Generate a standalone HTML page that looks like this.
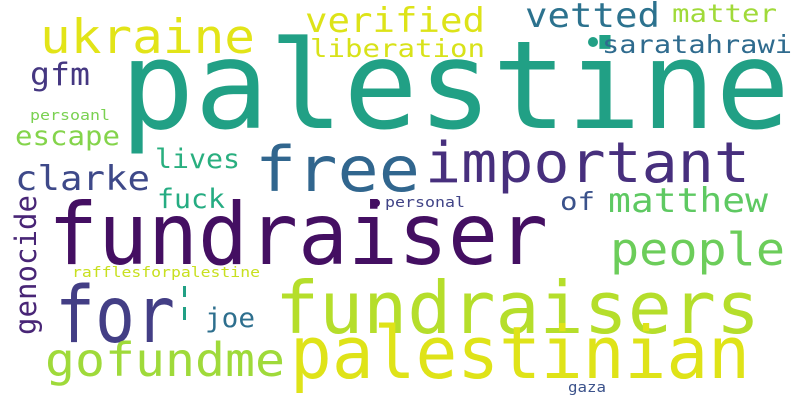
<!DOCTYPE html>
<html><head><meta charset="utf-8"><style>
html,body{margin:0;padding:0;background:#fff;width:800px;height:400px;overflow:hidden}
svg text{font-family:"DejaVu Sans Mono","Liberation Mono",monospace}
</style></head><body>
<svg id="cloud" width="800" height="400" viewBox="0 0 800 400" xmlns="http://www.w3.org/2000/svg">
<rect width="800" height="400" fill="#fff"/>
</svg>
<script>
const words = ["palestine","fundraiser","fundraisers","palestinian","important","free","for","people","gofundme","ukraine","verified","vetted","matter","liberation","saratahrawi","gfm","escape","persoanl","clarke","lives","fuck","genocide","rafflesforpalestine","joe","of","matthew","personal","gaza"];
const fontSizes = [122,86,72,72,56,62,78,45,46,47,34,34,25,25,25,31,27,14,34,27,27,29,14,27,25,34,14,14];
const colors = ["#21a085","#440f62","#b5de2b","#dfe318","#472f7d","#31668e","#433e85","#6ccd5a","#9fda3a","#e2e418","#dde318","#2c728e","#a0da39","#d8e219","#2f6b8e","#453781","#84d44b","#7ad151","#3e4989","#29af7f","#25ac82","#482576","#c8e020","#2e6f8e","#3b528b","#5ec962","#414487","#3b528b"];
const xs = [120,48,275,290,425,255,55,610,45,40,305,525,672,310,602,30,15,30,15,155,157,36,72,205,560,608,385,568];
const ys = [128,264,333,378,182,191,342,265,376,53,32,27,22,57,53,85,145,120,190,168,208,335,277,327,210,212,207,392];
const widths = [670,500,485,460,325,165,120,175,240,215,180,135,105,175,190,60,105,80,135,85,68,140,188,50,35,160,80,38];
const vertical = [0,0,0,0,0,0,0,0,0,0,0,0,0,0,0,0,0,0,0,0,0,1,0,0,0,0,0,0];
const svg = document.getElementById('cloud');
const NS = "http://www.w3.org/2000/svg";
for (let i = 0; i < words.length; i++) {
  const t = document.createElementNS(NS, 'text');
  
  
  t.setAttribute('x', xs[i]);
  t.setAttribute('y', ys[i]);
  t.setAttribute('font-size', fontSizes[i]);
  t.setAttribute('fill', colors[i]);
  t.setAttribute('textLength', widths[i]);
  t.setAttribute('lengthAdjust', 'spacingAndGlyphs');
  if (vertical[i]) t.setAttribute('transform', 'rotate(-90 ' + xs[i] + ' ' + ys[i] + ')');
  t.textContent = words[i];
  svg.appendChild(t);
}
const dots = [[593,42,5,"#21a085"],[376,203,4,"#440f62"]];
for (const d of dots) {
  const c = document.createElementNS(NS, 'circle');
  
  
  c.setAttribute('cx', d[0]); c.setAttribute('cy', d[1]); c.setAttribute('r', d[2]); c.setAttribute('fill', d[3]);
  svg.appendChild(c);
}
const bars = [[183,286,11],[183,307,13]];
for (const b of bars) {
  const r = document.createElementNS(NS, 'rect');
  
  
  r.setAttribute('x', b[0]); r.setAttribute('y', b[1]); r.setAttribute('width', 3); r.setAttribute('height', b[2]); r.setAttribute('fill', '#21a085');
  svg.appendChild(r);
}
</script>
</body></html>
